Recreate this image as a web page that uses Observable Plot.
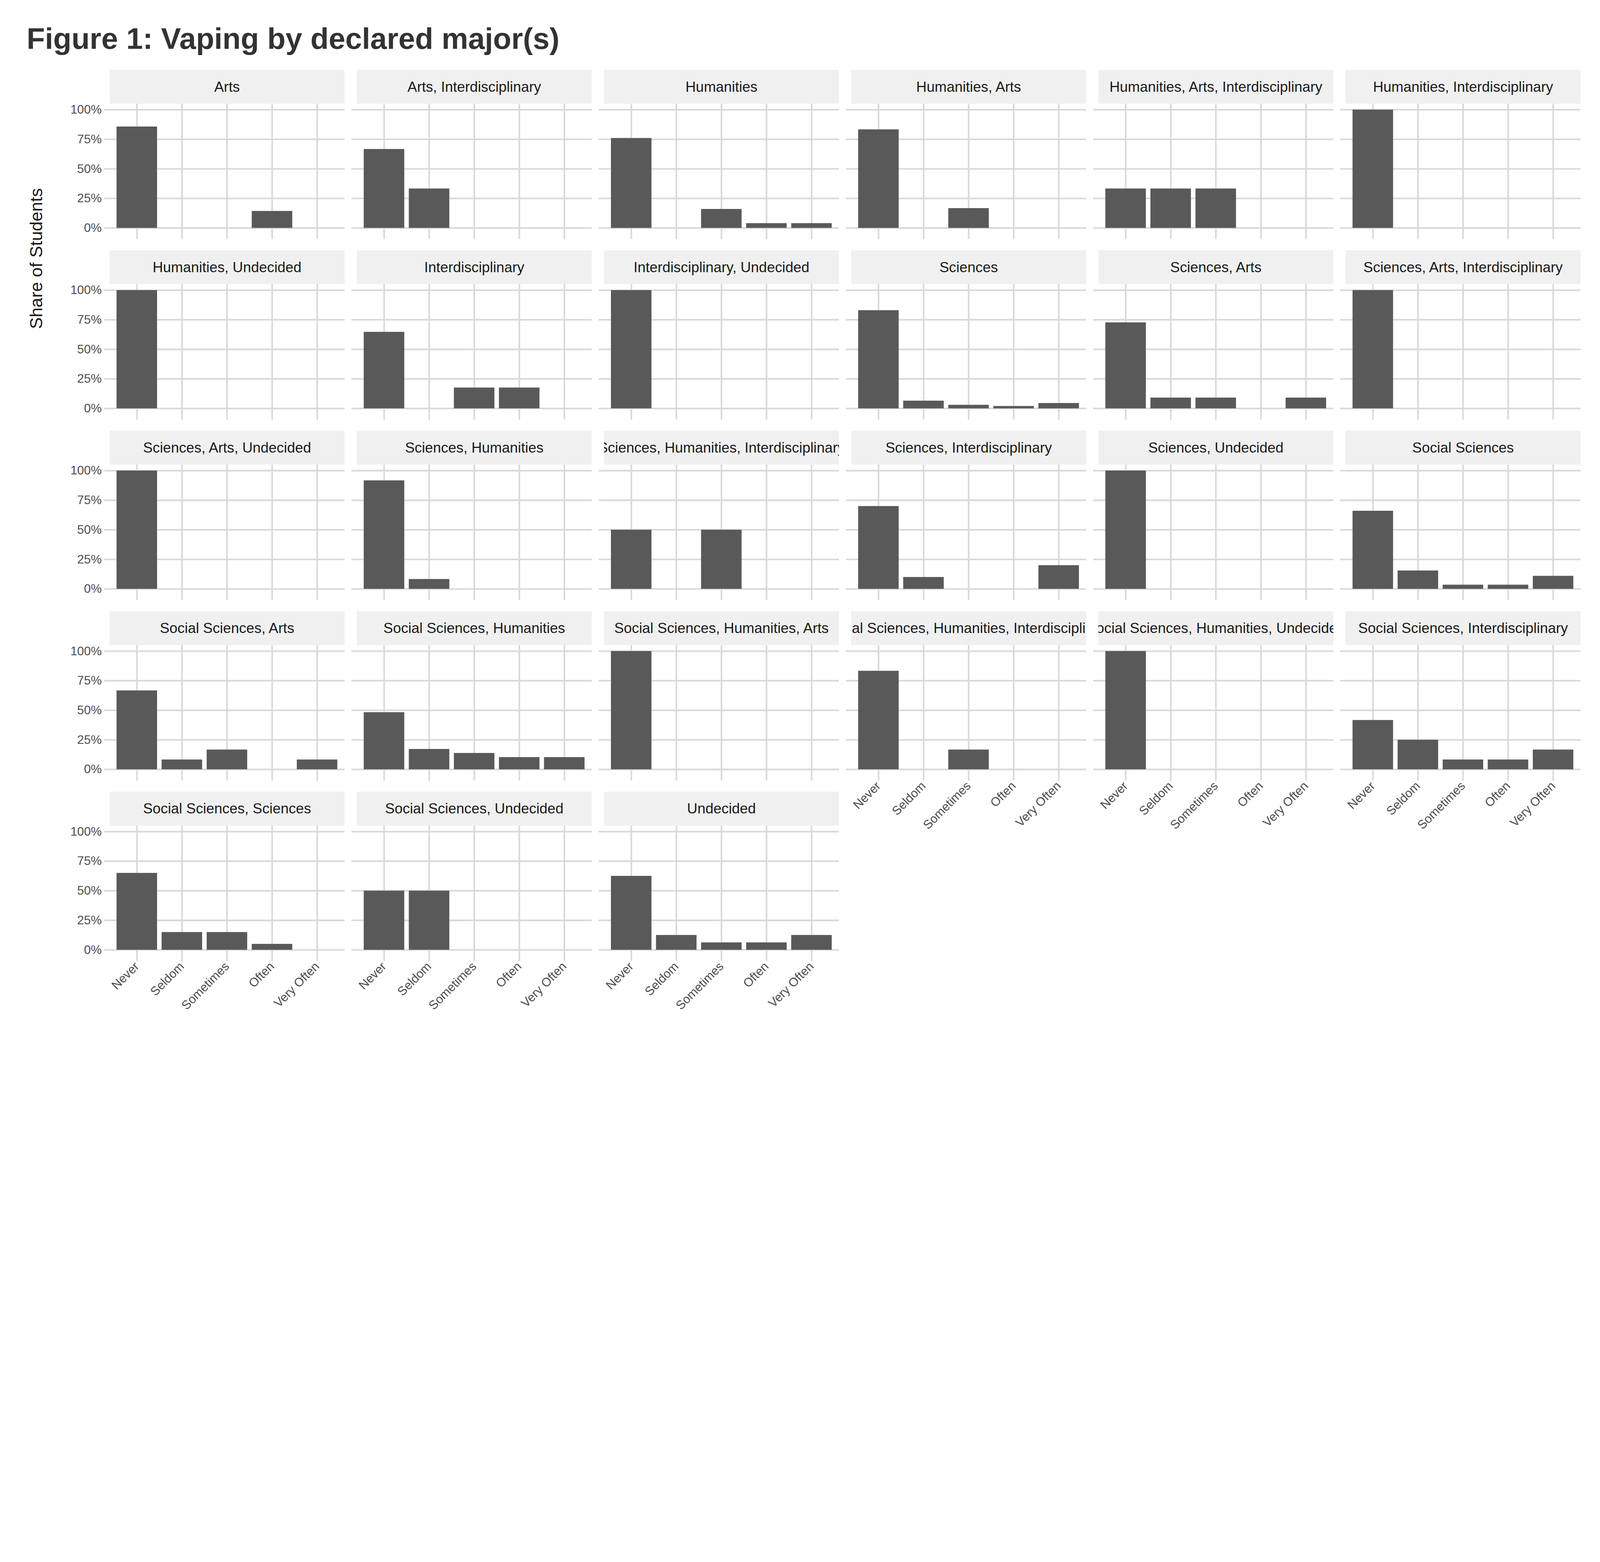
<!DOCTYPE html>
<html>
<head>
<meta charset="utf-8">
<script src="https://cdn.jsdelivr.net/npm/d3@7"></script>
<script src="https://cdn.jsdelivr.net/npm/@observablehq/plot@0.6"></script>
<style>
  html, body { margin: 0; background: #fff; font-family: "Liberation Sans", Arial, sans-serif; overflow: hidden; }
  #page { position: relative; width: 6000px; height: 4000px; overflow: hidden; transform-origin: 0 0; }
  .strip { position: absolute; background: #f0f0f0; color: #1a1a1a; font-size: 54px;
           text-align: center; line-height: 127px; white-space: nowrap; overflow: hidden;
           display: flex; justify-content: center; }
  .strip span { flex: none; }
  .panel { position: absolute; }
  .panel svg { background: transparent !important; overflow: visible; }
</style>
</head>
<body>
<div id="page">
  <div style="position:absolute;left:100px;top:80px;font-size:112px;font-weight:bold;color:#333;">Figure 1: Vaping by declared major(s)</div>
  <div style="position:absolute;left:135px;top:970px;transform:translate(-50%,-50%) rotate(-90deg);font-size:66px;color:#1a1a1a;white-space:nowrap;">Share of Students</div>
</div>
<script>
var levels = ['Never', 'Seldom', 'Sometimes', 'Often', 'Very Often'];
var majors = [
  'Arts', 'Arts, Interdisciplinary', 'Humanities', 'Humanities, Arts',
  'Humanities, Arts, Interdisciplinary', 'Humanities, Interdisciplinary',
  'Humanities, Undecided', 'Interdisciplinary', 'Interdisciplinary, Undecided',
  'Sciences', 'Sciences, Arts', 'Sciences, Arts, Interdisciplinary',
  'Sciences, Arts, Undecided', 'Sciences, Humanities', 'Sciences, Humanities, Interdisciplinary',
  'Sciences, Interdisciplinary', 'Sciences, Undecided', 'Social Sciences',
  'Social Sciences, Arts', 'Social Sciences, Humanities', 'Social Sciences, Humanities, Arts',
  'Social Sciences, Humanities, Interdisciplinary', 'Social Sciences, Humanities, Undecided',
  'Social Sciences, Interdisciplinary', 'Social Sciences, Sciences', 'Social Sciences, Undecided',
  'Undecided'
];
// share per level: Never, Seldom, Sometimes, Often, Very Often
var shares = [
  [0.857, 0, 0, 0.143, 0],
  [0.667, 0.333, 0, 0, 0],
  [0.76, 0, 0.16, 0.04, 0.04],
  [0.833, 0, 0.167, 0, 0],
  [0.333, 0.333, 0.333, 0, 0],
  [1, 0, 0, 0, 0],
  [1, 0, 0, 0, 0],
  [0.647, 0, 0.176, 0.176, 0],
  [1, 0, 0, 0, 0],
  [0.83, 0.065, 0.03, 0.02, 0.045],
  [0.727, 0.091, 0.091, 0, 0.091],
  [1, 0, 0, 0, 0],
  [1, 0, 0, 0, 0],
  [0.917, 0.083, 0, 0, 0],
  [0.5, 0, 0.5, 0, 0],
  [0.7, 0.1, 0, 0, 0.2],
  [1, 0, 0, 0, 0],
  [0.66, 0.155, 0.035, 0.035, 0.11],
  [0.667, 0.083, 0.167, 0, 0.083],
  [0.483, 0.172, 0.138, 0.103, 0.103],
  [1, 0, 0, 0, 0],
  [0.833, 0, 0.167, 0, 0],
  [1, 0, 0, 0, 0],
  [0.417, 0.25, 0.083, 0.083, 0.167],
  [0.65, 0.15, 0.15, 0.05, 0],
  [0.5, 0.5, 0, 0, 0],
  [0.625, 0.125, 0.0625, 0.0625, 0.125]
];

var page = document.getElementById('page');
var ncol = 6, px0 = 411, pw = 881, stepX = 927, sy0 = 262, sh = 127, ph = 488, stepY = 677;
var ml = 220, mb = 330;
var blank = () => '';

majors.forEach(function(m, i) {
  var col = i % ncol, row = Math.floor(i / ncol);
  var left = px0 + col * stepX, top = sy0 + row * stepY;
  var hasX = (i + ncol) >= majors.length;
  var hasY = col == 0;

  var strip = document.createElement('div');
  strip.className = 'strip';
  strip.style.left = left + 'px'; strip.style.top = top + 'px';
  strip.style.width = pw + 'px'; strip.style.height = sh + 'px';
  strip.innerHTML = '<span></span>';
  strip.firstChild.textContent = m;
  page.appendChild(strip);

  var data = levels.map((l, j) => ({level: l, share: shares[i][j]})).filter(d => d.share > 0);
  var plot = Plot.plot({
    width: pw + ml, height: ph + mb,
    marginLeft: ml, marginRight: 0, marginTop: 0, marginBottom: mb,
    style: {fontFamily: '"Liberation Sans", Arial, sans-serif', fontSize: '46px', color: '#4d4d4d', background: 'transparent'},
    x: {domain: levels, paddingInner: 0.1, paddingOuter: 0.15, label: null},
    y: {domain: [-0.05, 1.05], label: null},
    marks: [
      Plot.gridX(levels, {stroke: '#d9d9d9', strokeOpacity: 1, strokeWidth: 6}),
      Plot.gridY([0, 0.25, 0.5, 0.75, 1], {stroke: '#d9d9d9', strokeOpacity: 1, strokeWidth: 6}),
      Plot.rectY(data, {x: 'level', y1: 0, y2: 'share', fill: '#595959'}),
      Plot.axisX({tickSize: 20, tickPadding: 12, stroke: '#d9d9d9', strokeWidth: 6, tickRotate: -45,
        tickFormat: hasX ? (d => d) : blank, fill: '#4d4d4d'}),
      Plot.axisY({ticks: [0, 0.25, 0.5, 0.75, 1], tickSize: 20, tickPadding: 10, stroke: '#d9d9d9', strokeWidth: 6,
        tickFormat: hasY ? d3.format('.0%') : blank, fill: '#4d4d4d'})
    ]
  });
  var div = document.createElement('div');
  div.className = 'panel';
  div.style.left = (left - ml) + 'px'; div.style.top = (top + sh) + 'px';
  div.appendChild(plot);
  page.appendChild(div);
});

var k = Math.min(window.innerWidth / 6000, window.innerHeight / 4000);
if (k > 0 && Math.abs(k - 1) > 0.01) page.style.transform = 'scale(' + k + ')';
</script>
</body>
</html>
